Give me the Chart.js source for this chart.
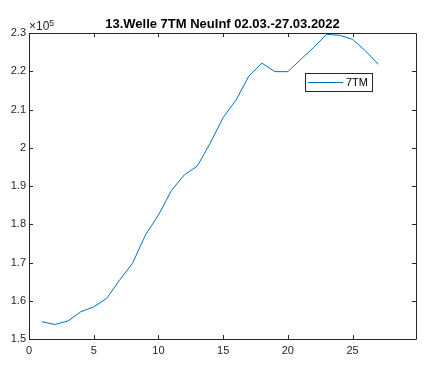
<!DOCTYPE html>
<html>
<head>
<meta charset="utf-8">
<script src="https://cdn.jsdelivr.net/npm/chart.js@4.4.1/dist/chart.umd.min.js"></script>
<style>
  html, body { margin: 0; padding: 0; background: #fff; }
  canvas { display: block; }
</style>
</head>
<body>
<canvas id="chart" width="427" height="367"></canvas>
<script>
// 13. wave, 7-day new infections, 02.03. - 27.03.2022
const days = [1, 2, 3, 4, 5, 6, 7, 8, 9, 10, 11, 12, 13, 14, 15, 16, 17, 18, 19, 20, 21, 22, 23, 24, 25, 26, 27];
const newInf7 = [154500, 153800, 154700, 157100, 158400, 160600, 165400, 169800, 177200, 182400,
                 188800, 192900, 195200, 201200, 207900, 212500, 218800, 222100, 219900, 219900,
                 223100, 226250, 229650, 229400, 228350, 225300, 221800];
const seriesLabel = '7TM';
const titleText = '13.Welle 7TM NeuInf 02.03.-27.03.2022';
const xTicks = [0, 5, 10, 15, 20, 25];
const yTicks = [150000, 160000, 170000, 180000, 190000, 200000, 210000, 220000, 230000];

const AXIS_COLOR = '#262626';
const LINE_COLOR = '#0072BD';
const FONT = 'Arial, "Liberation Sans", sans-serif';

// draws the MATLAB-ish box, inward ticks, legend, exponent and title
const matlabFrame = {
    id: 'matlabFrame',
    afterDraw(chart) {
        const ctx = chart.ctx;
        const a = chart.chartArea;
        const xs = chart.scales.x, ys = chart.scales.y;
        const tl = 4;
        ctx.save();
        ctx.strokeStyle = AXIS_COLOR;
        ctx.lineWidth = 1;
        ctx.beginPath();
        ctx.rect(Math.round(a.left) + 0.5, Math.round(a.top) + 0.5,
                 Math.round(a.right - a.left), Math.round(a.bottom - a.top));
        xTicks.forEach(v => {
            const px = Math.round(xs.getPixelForValue(v)) + 0.5;
            ctx.moveTo(px, a.bottom); ctx.lineTo(px, a.bottom - tl);
            ctx.moveTo(px, a.top); ctx.lineTo(px, a.top + tl);
        });
        yTicks.forEach(v => {
            const py = Math.round(ys.getPixelForValue(v)) + 0.5;
            ctx.moveTo(a.left, py); ctx.lineTo(a.left + tl, py);
            ctx.moveTo(a.right, py); ctx.lineTo(a.right - tl, py);
        });
        ctx.stroke();

        // exponent label
        ctx.fillStyle = AXIS_COLOR;
        ctx.textBaseline = 'alphabetic';
        ctx.textAlign = 'left';
        ctx.font = '12px ' + FONT;
        ctx.fillText('\u00d710', a.left, a.top - 3);
        const w = ctx.measureText('\u00d710').width;
        ctx.font = '8.5px ' + FONT;
        ctx.fillText('5', a.left + w, a.top - 7);

        // title
        ctx.fillStyle = '#000';
        ctx.font = 'bold 13px ' + FONT;
        ctx.textAlign = 'center';
        ctx.fillText(titleText, (a.left + a.right) / 2, a.top - 5);

        // legend
        const lx = 305, ly = 73, lw = 67, lh = 18;
        ctx.fillStyle = '#fff';
        ctx.fillRect(lx, ly, lw, lh);
        ctx.strokeStyle = AXIS_COLOR;
        ctx.strokeRect(lx + 0.5, ly + 0.5, lw, lh);
        const ds = chart.data.datasets[0];
        ctx.strokeStyle = ds.borderColor;
        ctx.beginPath();
        ctx.moveTo(lx + 3, ly + 9.5);
        ctx.lineTo(lx + 38, ly + 9.5);
        ctx.stroke();
        ctx.fillStyle = '#000';
        ctx.font = '11px ' + FONT;
        ctx.textAlign = 'left';
        ctx.textBaseline = 'middle';
        ctx.fillText(ds.label, lx + 41, ly + 10);
        ctx.restore();
    }
};

new Chart(document.getElementById('chart').getContext('2d'), {
    type: 'line',
    data: {
        datasets: [{
            label: seriesLabel,
            data: days.map((d, i) => ({ x: d, y: newInf7[i] })),
            borderColor: LINE_COLOR,
            backgroundColor: 'transparent',
            borderWidth: 1,
            pointRadius: 0,
            tension: 0
        }]
    },
    options: {
        responsive: false,
        animation: false,
        layout: { padding: { top: 33, right: 11, left: 0, bottom: 0 } },
        plugins: {
            legend: { display: false },
            title: { display: false },
            tooltip: { enabled: false }
        },
        scales: {
            x: {
                type: 'linear',
                min: 0,
                max: 29.9,
                afterFit: s => { s.height = 28; },
                afterBuildTicks: s => { s.ticks = xTicks.map(v => ({ value: v })); },
                grid: { display: false, drawTicks: false },
                border: { display: false },
                ticks: { color: AXIS_COLOR, font: { family: FONT, size: 11 }, padding: 5, maxRotation: 0 }
            },
            y: {
                type: 'linear',
                min: 150000,
                max: 230000,
                afterFit: s => { s.width = 29; },
                afterBuildTicks: s => { s.ticks = yTicks.map(v => ({ value: v })); },
                grid: { display: false, drawTicks: false },
                border: { display: false },
                ticks: {
                    color: AXIS_COLOR,
                    font: { family: FONT, size: 11 },
                    padding: 3,
                    callback: v => String(Number((v / 1e5).toFixed(1)))
                }
            }
        }
    },
    plugins: [matlabFrame]
});
</script>
</body>
</html>
